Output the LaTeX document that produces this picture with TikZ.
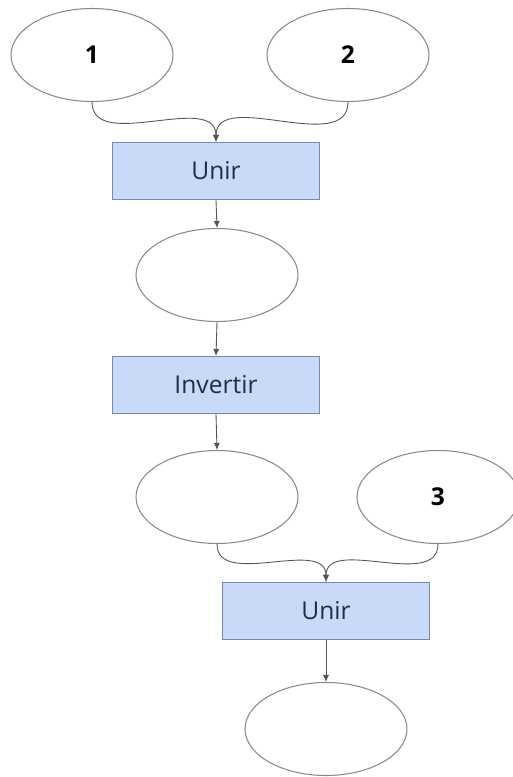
\documentclass[tikz,border=0pt]{standalone}
\usepackage{fontspec}
\setmainfont{Open Sans}
\usetikzlibrary{shapes.geometric,arrows.meta}
\definecolor{boxfill}{HTML}{C9DAF8}
\definecolor{boxline}{HTML}{7189B3}
\definecolor{boxtext}{HTML}{1F2D4A}
\definecolor{ovalline}{HTML}{8A8A8A}
\definecolor{arrline}{HTML}{555555}
\begin{document}
\begin{tikzpicture}[x=0.02cm, y=-0.02cm,
        oval/.style={ellipse, draw=ovalline, line width=0.6pt, fill=white, minimum width=3.24cm, minimum height=1.86cm, inner sep=0pt, font=\fontsize{14}{16}\selectfont\bfseries},
        stepbox/.style={rectangle, draw=boxline, line width=0.6pt, fill=boxfill, minimum width=4.14cm, minimum height=1.14cm, inner sep=0pt, text=boxtext, font=\fontsize{14}{16}\selectfont},
        arr/.style={draw=arrline, line width=0.5pt, -{Latex[length=4pt,width=3.5pt]}}]
        \useasboundingbox (0,0) rectangle (512,777);

        % first join
        \node[oval] (in1) at (92,55) {1};
        \node[oval] (in2) at (348,55) {2};
        \node[stepbox] (join1) at (216,171) {Unir};

        % invert
        \node[oval] (mid1) at (217,275) {};
        \node[stepbox] (invert) at (216,385) {Invertir};

        % second join
        \node[oval] (mid2) at (217,497) {};
        \node[oval] (in3) at (438,497) {3};
        \node[stepbox] (join2) at (326,611) {Unir};
        \node[oval] (out) at (326,729) {};

        \draw[arr] (in1.south) to[out=-90, in=90] (join1.north);
        \draw[arr] (in2.south) to[out=-90, in=90] (join1.north);
        \draw[arr] (join1.south) -- (mid1.north);
        \draw[arr] (mid1.south) -- (invert.north);
        \draw[arr] (invert.south) -- (mid2.north);
        \draw[arr] (mid2.south) to[out=-90, in=90] (join2.north);
        \draw[arr] (in3.south) to[out=-90, in=90] (join2.north);
        \draw[arr] (join2.south) -- (out.north);
    \end{tikzpicture}
\end{document}
